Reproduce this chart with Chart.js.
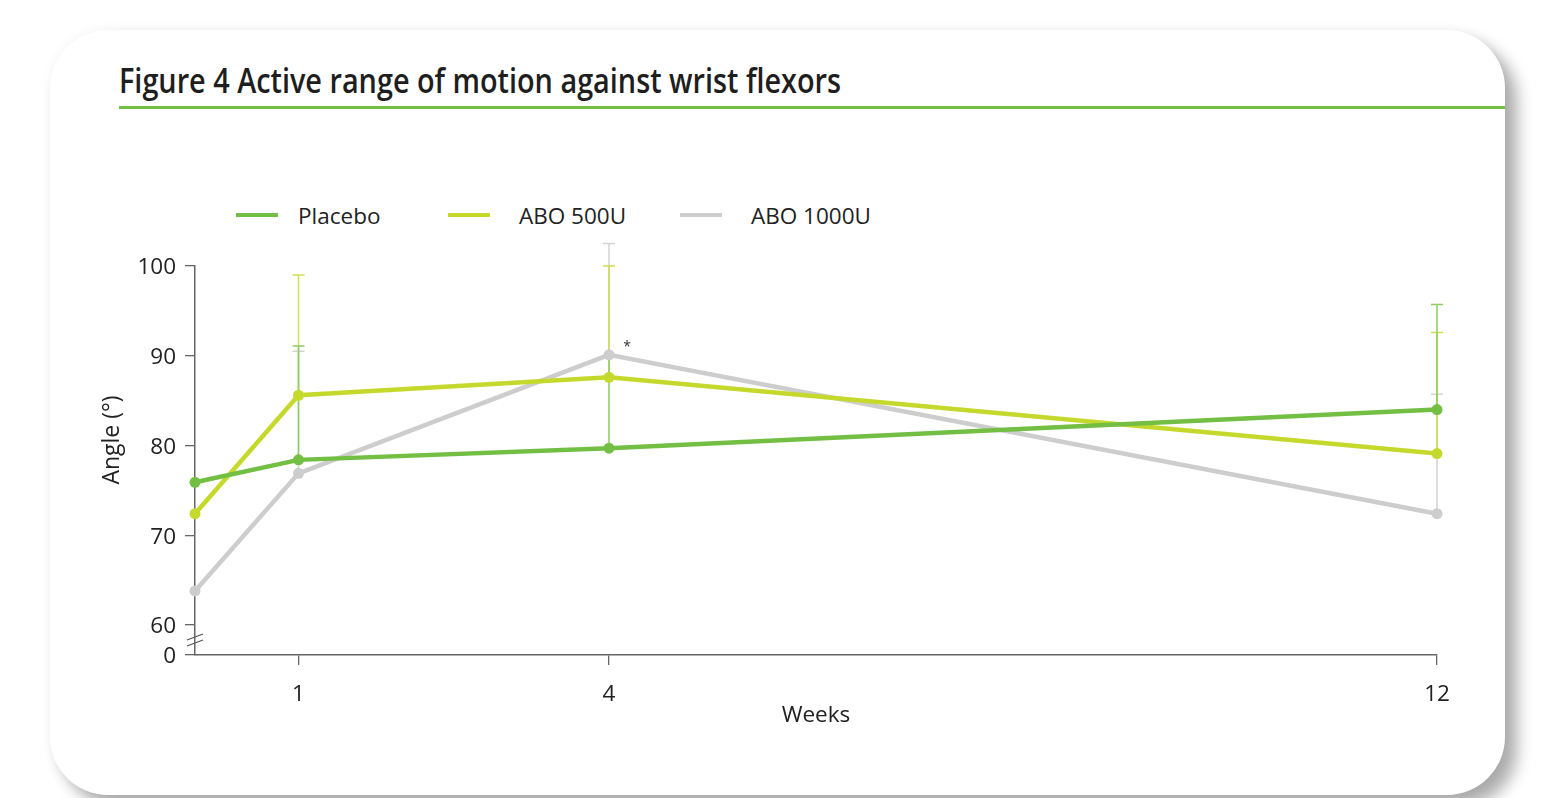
<!DOCTYPE html>
<html>
<head>
<meta charset="utf-8">
<script src="https://cdn.jsdelivr.net/npm/chart.js@4.4.0/dist/chart.umd.min.js"></script>
<style>
html,body{margin:0;padding:0;background:#fff;width:1542px;height:798px;overflow:hidden;font-family:"Open Sans",sans-serif;color:#222;}
#card{position:absolute;left:50px;top:30px;width:1455px;height:765px;background:#fff;border-radius:58px;
  box-shadow:12px 12px 16px rgba(0,0,0,0.32),0 0 12px rgba(0,0,0,0.05);}
#title{position:absolute;left:119px;top:63px;font-size:34px;line-height:34px;font-weight:600;white-space:nowrap;
  transform-origin:0 0;color:#1e1e1e;}
#rule{position:absolute;left:119px;top:106px;width:1386px;height:3px;background:#74c045;
  box-shadow:0 7px 8px -2px rgba(0,0,0,0.14);}
.lg{position:absolute;top:200px;height:30px;display:flex;align-items:center;font-size:22.5px;white-space:nowrap;}
.lg span.sw{display:inline-block;width:42px;height:4px;}
canvas{position:absolute;left:0;top:0;}
</style>
</head>
<body>
<div id="card"></div>
<div id="title">Figure 4 Active range of motion against wrist flexors</div>
<div id="rule"></div>
<div id="legend"></div>
<canvas id="chart" width="1542" height="798"></canvas>
<script>
// -------- data --------
const weeks = [0, 1, 4, 12];
const xTickWeeks = [1, 4, 12];
const yTicks = [60, 70, 80, 90, 100];
const yFloor = 56.66;          // drawn as "0" below the axis break

const seriesNames = ['Placebo', 'ABO 500U', 'ABO 1000U'];
const placebo      = [75.9, 78.4, 79.7, 84.0];
const placeboUpper = [null, 91.1, 90.0, 95.7];
const abo500       = [72.4, 85.6, 87.6, 79.1];
const abo500Upper  = [null, 99.0, 100.0, 92.6];
const abo1000      = [63.8, 76.9, 90.1, 72.4];
const abo1000Upper = [null, 90.5, 102.5, 85.7];

const lineColors = ['#72bf44', '#c5d92d', '#cdcdcd'];
const barColors  = ['#8ccd62', '#cfe04f', '#d4d4d4'];
const FONT = '"Open Sans", sans-serif';

// --------- title fit ---------
const titleEl = document.getElementById('title');
const tw = titleEl.getBoundingClientRect().width;
titleEl.style.transform = `scaleX(${722 / tw})`;

// --------- legend ---------
const legendX = [236, 448, 680];
const legendGap = [20, 29, 29];
const legend = document.getElementById('legend');
seriesNames.forEach((n, i) => {
    const d = document.createElement('div');
    d.className = 'lg';
    d.style.left = legendX[i] + 'px';
    d.innerHTML = `<span class="sw" style="background:${lineColors[i]};margin-right:${legendGap[i]}px"></span>${n}`;
    legend.appendChild(d);
});

const values = [placebo, abo500, abo1000];
const uppers = [placeboUpper, abo500Upper, abo1000Upper];

const datasets = values.map((v, i) => ({
    label: seriesNames[i],
    data: weeks.map((w, j) => ({x: w, y: v[j]})),
    borderColor: lineColors[i],
    backgroundColor: lineColors[i],
    pointBackgroundColor: lineColors[i],
    pointBorderWidth: 0,
    pointRadius: 5.5,
    borderWidth: 4.5,
    tension: 0,
    clip: false
}));

// --------- plugins ---------
const errorBars = {
    id: 'errorBars',
    beforeDatasetsDraw(chart){
        const {ctx, scales:{x, y}} = chart;
        ctx.save();
        ctx.lineWidth = 1.5;
        [2, 1, 0].forEach(i => {
            ctx.strokeStyle = barColors[i];
            uppers[i].forEach((u, j) => {
                if(u == null) return;
                const px = x.getPixelForValue(weeks[j]);
                const y0 = y.getPixelForValue(values[i][j]);
                const y1 = y.getPixelForValue(u);
                ctx.beginPath();
                ctx.moveTo(px, y0); ctx.lineTo(px, y1);
                ctx.moveTo(px - 6, y1); ctx.lineTo(px + 6, y1);
                ctx.stroke();
            });
        });
        ctx.restore();
    }
};

const extras = {
    id: 'extras',
    afterDraw(chart){
        const {ctx, scales:{x, y}} = chart;
        ctx.save();
        // axis break
        const ax = x.left, by = y.getPixelForValue((yFloor + 60) / 2);
        ctx.strokeStyle = '#555'; ctx.lineWidth = 1.3;
        [-3, 3].forEach(o => {
            ctx.beginPath();
            ctx.moveTo(ax - 8, by + o + 3); ctx.lineTo(ax + 8, by + o - 3);
            ctx.stroke();
        });
        // y axis title
        ctx.fillStyle = '#222';
        ctx.font = `23px ${FONT}`;
        ctx.textAlign = 'center'; ctx.textBaseline = 'middle';
        ctx.translate(112, 440); ctx.rotate(-Math.PI / 2);
        ctx.fillText('Angle (°)', 0, 0);
        ctx.restore();
        // significance mark at week 4, ABO 1000U
        ctx.save();
        ctx.fillStyle = '#333'; ctx.font = `14px ${FONT}`;
        ctx.textAlign = 'center'; ctx.textBaseline = 'middle';
        ctx.fillText('*', x.getPixelForValue(4) + 18, y.getPixelForValue(abo1000[2]) - 8);
        ctx.restore();
    }
};

new Chart(document.getElementById('chart'), {
    type: 'line',
    data: {datasets},
    options: {
        responsive: false,
        animation: false,
        layout: {padding: {left: 80, right: 105, top: 266, bottom: 58}},
        plugins: {legend: {display: false}, tooltip: {enabled: false}},
        scales: {
            x: {
                type: 'linear', min: 0, max: 12,
                afterBuildTicks: s => { s.ticks = xTickWeeks.map(v => ({value: v})); },
                afterFit: s => { s.height = 85; },
                grid: {drawOnChartArea: false, drawTicks: true, tickLength: 10, color: '#666', lineWidth: 1.3},
                border: {display: true, color: '#666', width: 1.5},
                ticks: {color: '#222', padding: 16, font: {size: 22.5, family: FONT}, callback: v => v},
                title: {display: true, text: 'Weeks', color: '#222', font: {size: 22.5, family: FONT}, padding: {top: 0, bottom: 11}}
            },
            y: {
                type: 'linear', min: yFloor, max: 100,
                afterBuildTicks: s => { s.ticks = [yFloor, ...yTicks].map(v => ({value: v})); },
                afterFit: s => { s.width = 115; },
                grid: {drawOnChartArea: false, drawTicks: true, tickLength: 10, color: '#666', lineWidth: 1.3},
                border: {display: true, color: '#666', width: 1.5},
                ticks: {color: '#222', padding: 9, labelOffset: 2, font: {size: 22.5, family: FONT}, callback: v => v < 60 ? '0' : v}
            }
        }
    },
    plugins: [errorBars, extras]
});
</script>
</body>
</html>
